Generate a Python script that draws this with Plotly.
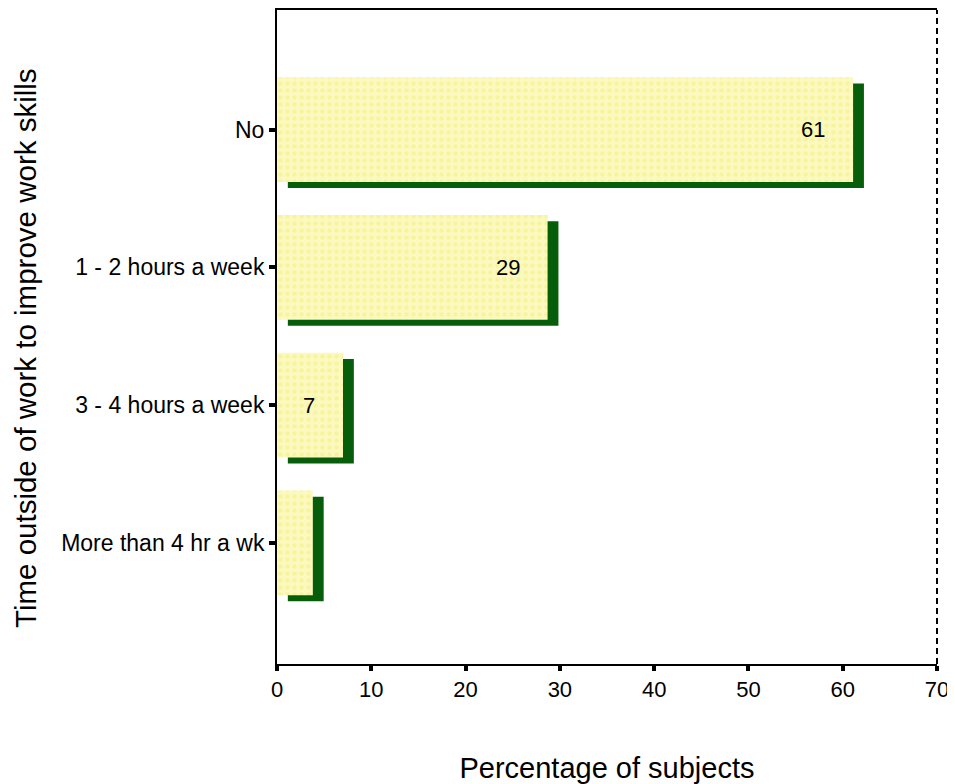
import plotly.graph_objects as go

# ---- data ----
categories = ["No", "1 - 2 hours a week", "3 - 4 hours a week", "More than 4 hr a wk"]
percentages = [61.1, 28.7, 7.0, 3.8]
value_labels = ["61", "29", "7", ""]
x_ticks = [0, 10, 20, 30, 40, 50, 60, 70]

# ---- style constants ----
FONT = "Arial, Liberation Sans, sans-serif"
BAR_W = 0.76
SHADOW_DX = 1.15      # shadow shift along value axis
SHADOW_DY = 0.045     # shadow shift along category axis
YELLOW = "#fbf9c0"
GREEN = "#075e0a"

fig = go.Figure()

# shadow bars
fig.add_trace(go.Bar(
    y=categories, x=percentages, base=[SHADOW_DX] * len(percentages),
    orientation="h", width=BAR_W, offset=-BAR_W / 2 + SHADOW_DY,
    marker=dict(color=GREEN, line=dict(width=0)),
    hoverinfo="skip", showlegend=False,
))

# main bars
fig.add_trace(go.Bar(
    y=categories, x=percentages,
    orientation="h", width=BAR_W, offset=-BAR_W / 2,
    marker=dict(color=YELLOW, line=dict(width=0),
                pattern=dict(shape=".", fgcolor="#f4f07a", size=7,
                             solidity=0.35, fillmode="overlay")),
    showlegend=False,
))

# value labels, placed just inside bar end
for cat, val, lab in zip(categories, percentages, value_labels):
    if lab:
        fig.add_annotation(x=val, y=cat, text=lab, showarrow=False,
                           xanchor="right", xshift=-26,
                           font=dict(family=FONT, size=22, color="black"))

# y-axis title (as annotation to match its vertical placement)
fig.add_annotation(xref="paper", yref="paper", x=0, y=0.5, xshift=-252, yshift=-11,
                   xanchor="center", yanchor="middle", textangle=-90, showarrow=False,
                   text="Time outside of work to improve work skills",
                   font=dict(family=FONT, size=29.5, color="black"))

fig.update_layout(
    width=947, height=776,
    margin=dict(l=269, r=18, t=0, b=111),
    paper_bgcolor="white", plot_bgcolor="white",
    barmode="overlay",
    font=dict(family=FONT, color="black"),
    xaxis=dict(
        range=[0, 70], tickvals=x_ticks, ticktext=[str(t) for t in x_ticks],
        showgrid=False, zeroline=False,
        showline=True, linecolor="black", linewidth=2, mirror=True,
        ticks="outside", ticklen=5, tickwidth=4, tickcolor="black",
        ticklabeloverflow="allow",
        tickfont=dict(size=22, family=FONT),
        title=dict(text="Percentage of subjects", font=dict(size=29, family=FONT),
                   standoff=61),
    ),
    yaxis=dict(
        type="category", categoryorder="array", categoryarray=categories,
        range=[3.88, -0.868],
        showgrid=False, zeroline=False,
        showline=True, linecolor="black", linewidth=2,
        ticks="outside", ticklen=6, tickwidth=4, tickcolor="black",
        tickfont=dict(size=23, family=FONT),
    ),
    shapes=[dict(type="line", xref="paper", yref="paper", x0=1, x1=1, y0=0, y1=1,
                 line=dict(color="black", width=2, dash="6px,4px"))],
)

fig.write_html("out.html",
               post_script="document.documentElement.style.overflow='hidden';")
